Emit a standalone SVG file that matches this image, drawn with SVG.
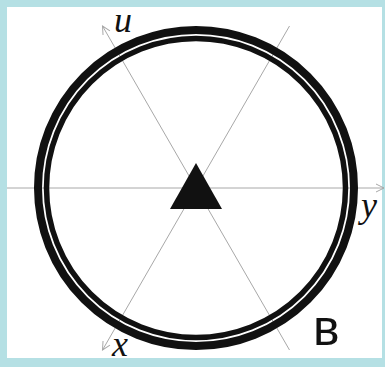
<svg xmlns="http://www.w3.org/2000/svg" width="385" height="367" viewBox="0 0 385 367">
<defs>
<style>
.ax{stroke:#a8a8a8;stroke-width:1;fill:none}
.lbl{font-family:"Liberation Serif",serif;font-style:italic;font-size:36px;fill:#111}
</style>
<marker id="arr" viewBox="0 0 10 10" refX="9" refY="5" markerWidth="10" markerHeight="10" markerUnits="userSpaceOnUse" orient="auto">
<path d="M1,1 L9,5 L1,9" fill="none" stroke="#a8a8a8" stroke-width="1"/>
</marker>
</defs>
<rect x="0" y="0" width="385" height="367" fill="#b5e0e4"/>
<rect x="7" y="7" width="375" height="351" fill="#ffffff"/>
<g id="connectors">
<line class="ax" x1="7" y1="188" x2="384" y2="188" marker-end="url(#arr)"/>
<line class="ax" x1="289.5" y1="350" x2="102.5" y2="26" marker-end="url(#arr)"/>
<line class="ax" x1="289.5" y1="26" x2="102.5" y2="350" marker-end="url(#arr)"/>
</g>
<g id="ring">
<circle cx="196" cy="188" r="158" fill="none" stroke="#111" stroke-width="8"/>
<circle cx="196" cy="188" r="149.5" fill="none" stroke="#111" stroke-width="5.5"/>
</g>
<g id="triangle">
<polygon points="196,163 222,209 170,209" fill="#111"/>
</g>
<g id="labels">
<text class="lbl" x="114" y="32" font-size="34">u</text>
<text class="lbl" x="361" y="217">y</text>
<text class="lbl" x="112" y="356">x</text>
<text x="313" y="345" font-family="Liberation Sans,sans-serif" font-size="50" fill="#111">в</text>
</g>
</svg>
